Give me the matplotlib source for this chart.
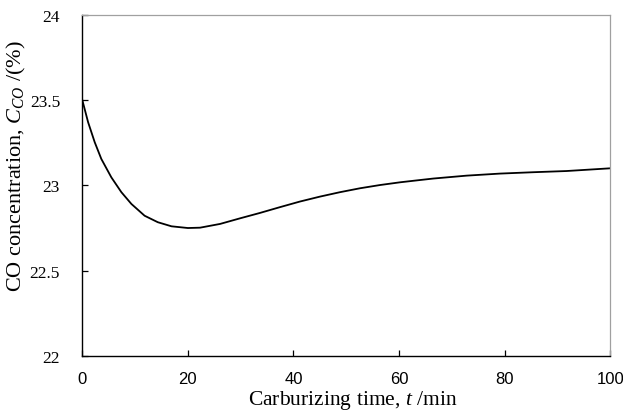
import numpy as np
import matplotlib
matplotlib.use("Agg")
from matplotlib import pyplot as plt

# values
time_min = [0, 1.1, 2.35, 3.6, 5.5, 7.4, 9.3, 11.8, 14.3, 16.9, 20, 22.3, 26.1,
            29.9, 33.6, 37.4, 41.2, 45, 48.8, 52.6, 56.4, 60.2, 63.6, 66.5,
            72.8, 79.1, 85.4, 91.7, 100]
co_conc = [23.50, 23.37, 23.253, 23.155, 23.047, 22.96, 22.891, 22.822, 22.784,
           22.76, 22.75, 22.752, 22.774, 22.807, 22.838, 22.872, 22.905, 22.934,
           22.96, 22.983, 23.002, 23.018, 23.03, 23.04, 23.057, 23.069, 23.077,
           23.084, 23.10]
xticks = [0, 20, 40, 60, 80, 100]
yticks = [22, 22.5, 23, 23.5, 24]
ytick_labels = ['22', '22.5', '23', '23.5', '24']

plt.rcParams['mathtext.fontset'] = 'custom'
plt.rcParams['mathtext.rm'] = 'Liberation Serif'
plt.rcParams['mathtext.it'] = 'Liberation Serif:italic'

fig = plt.figure(figsize=(6.23, 4.14), dpi=100)
ax = fig.add_axes([0.1321, 0.1377, 0.8475, 0.8243])

ax.plot(time_min, co_conc, color='black', lw=1.3, solid_joinstyle='round')

ax.set_xlim(0, 100)
ax.set_ylim(22, 24)
ax.set_xticks(xticks)
ax.set_yticks(yticks)
ax.set_yticklabels(ytick_labels)

for s in ['left', 'bottom']:
    ax.spines[s].set_color('black')
    ax.spines[s].set_linewidth(1.0)
for s in ['top', 'right']:
    ax.spines[s].set_color('#a0a0a0')
    ax.spines[s].set_linewidth(0.9)

ax.tick_params(direction='in', length=4.3, width=0.9, top=False, right=False)
ax.tick_params(axis='x', pad=11)
ax.tick_params(axis='y', pad=16)
for lab in ax.get_xticklabels():
    lab.set_family(['Liberation Sans Narrow', 'Liberation Sans'])
    lab.set_fontsize(12)
for lab in ax.get_yticklabels():
    lab.set_family('Liberation Serif')
    lab.set_fontsize(12.5)

ax.set_xlabel('Carburizing time, $t$ /min', family='Liberation Serif', fontsize=15.5)
ax.xaxis.set_label_coords(0.513, -0.095)
ax.set_ylabel('CO concentration, $C_{CO}$ /(%)', family='Liberation Serif', fontsize=16)
ax.yaxis.set_label_coords(-0.102, 0.558)

fig.savefig('out.png', dpi=100)
